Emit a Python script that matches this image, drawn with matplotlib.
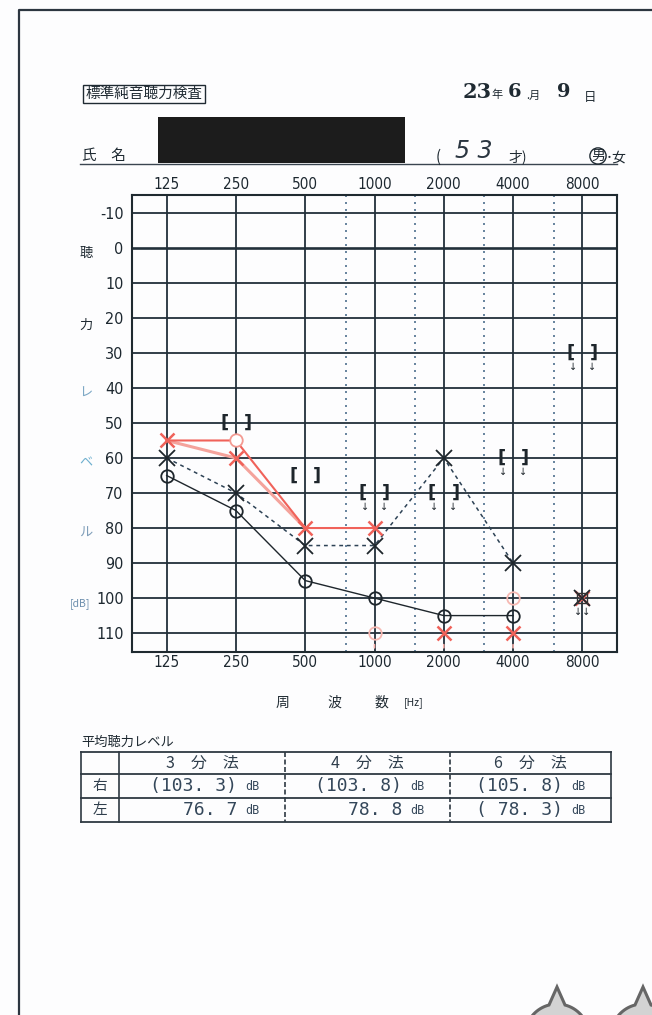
import numpy as np
import matplotlib
matplotlib.use('Agg')
import matplotlib.pyplot as plt
from matplotlib.patches import Rectangle, Polygon

plt.rcParams['font.family'] = ['Noto Sans CJK JP', 'DejaVu Sans']

# frequency axis
freqs = [125, 250, 500, 1000, 2000, 4000, 8000]
freqLabels = ['125', '250', '500', '1000', '2000', '4000', '8000']
halfFreqs = [750, 1500, 3000, 6000]
dbTicks = list(range(-10, 111, 10))

# black marks
blackOFreq = [125, 250, 500, 1000, 2000, 4000]
blackODb = [65, 75, 95, 100, 105, 105]
blackXFreq = [125, 250, 500, 1000, 2000, 4000, 8000]
blackXDb = [60, 70, 85, 85, 60, 90, 100]

# red marks
redSolidFreq = [125, 250, 500, 1000]
redSolidDb = [55, 55, 80, 80]
redPaleFreq = [125, 250, 500]
redPaleDb = [55, 60, 80]
redXFreq = [125, 250, 500, 1000, 2000, 4000, 8000]
redXDb = [55, 60, 80, 80, 110, 110, 100]
redOFreq = [250]
redODb = [55]
redFaintOFreq = [1000, 4000]
redFaintODb = [110, 100]
redOutFreq = [1000, 2000, 4000]
redOutDb = [110, 110, 110]

# bone conduction brackets
boneFreq = [250, 500, 1000, 2000, 4000, 8000]
boneDb = [50, 65, 70, 70, 60, 30]
boneOut = [False, False, True, True, True, True]

# average table
tableCols = ['3　分　法', '4　分　法', '6　分　法']
tableRows = ['右', '左']
tableVals = [['(103. 3)', '(103. 8)', '(105. 8)'],
             ['76. 7', '78. 8', '( 78. 3)']]

W, H = 652, 1015
fig = plt.figure(figsize=(W / 100, H / 100), dpi=100)
fig.patch.set_facecolor('#fdfdfe')

# page overlay in pixel coords
pg = fig.add_axes([0, 0, 1, 1])
pg.set_xlim(0, W)
pg.set_ylim(H, 0)
pg.axis('off')

ink = '#1f2a32'
pg.plot([19, 19, W], [H, 10, 10], color='#2c3640', lw=1.6)

pg.text(144, 94, '標準純音聴力検査', fontsize=10.5, ha='center', va='center', color=ink,
        bbox=dict(boxstyle='square,pad=0.15', fc='none', ec=ink, lw=1))
pg.text(477, 92, '23', fontsize=15, fontweight='bold', ha='center', va='center', color=ink, family='DejaVu Serif')
pg.text(497, 95, '年', fontsize=8, ha='center', va='center', color=ink)
pg.text(515, 92, '6', fontsize=14, fontweight='bold', ha='center', va='center', color=ink, family='DejaVu Serif')
pg.text(533, 96, '.月', fontsize=8, ha='center', va='center', color=ink)
pg.text(564, 92, '9', fontsize=14, fontweight='bold', ha='center', va='center', color=ink, family='DejaVu Serif')
pg.text(590, 97, '日', fontsize=9, ha='center', va='center', color=ink)

pg.text(82, 156, '氏　名', fontsize=10.5, ha='left', va='center', color=ink)
pg.plot([80, 617], [164, 164], color='#3a4550', lw=1)
pg.add_patch(Rectangle((158, 117), 247, 46, fc='#1c1c1c', ec='none'))
pg.text(438, 157, '(', fontsize=11, ha='center', va='center', color=ink)
pg.text(474, 151, '5 3', fontsize=17, ha='center', va='center', color='#2a3540', style='italic',
        family='DejaVu Sans', fontweight='light')
pg.text(518, 157, '才)', fontsize=10, ha='center', va='center', color=ink)
pg.text(598, 156, '男', fontsize=10, ha='center', va='center', color=ink,
        bbox=dict(boxstyle='circle,pad=0.08', fc='none', ec=ink, lw=1))
pg.text(616, 158, '･女', fontsize=10, ha='center', va='center', color=ink)

# vertical axis words
sideWords = [('聴', 253, ink), ('力', 325, ink), ('レ', 393, '#7aa6c4'),
             ('ベ', 463, '#6fb0cf'), ('ル', 533, '#7d9cb8')]
for ch, yy, cc in sideWords:
    pg.text(86, yy, ch, fontsize=9.5, ha='center', va='center', color=cc)
pg.text(80, 604, '[dB]', fontsize=7.5, ha='center', va='center', color='#6d8fae')

pg.text(282, 703, '周', fontsize=10, ha='center', va='center', color=ink)
pg.text(334, 703, '波', fontsize=10, ha='center', va='center', color=ink)
pg.text(381, 703, '数', fontsize=10, ha='center', va='center', color=ink)
pg.text(414, 703, '[Hz]', fontsize=7.5, ha='center', va='center', color=ink)

# table
pg.text(81, 742, '平均聴力レベル', fontsize=9.5, ha='left', va='center', color=ink)
tx = [81, 119, 285, 450, 611]
ty = [752, 774, 798, 822]
for yy in ty:
    pg.plot([tx[0], tx[-1]], [yy, yy], color='#2e3942', lw=1.3)
for i, xx in enumerate(tx):
    ls = '-' if i in (0, 1, 4) else (0, (3, 1.5))
    pg.plot([xx, xx], [ty[0], ty[-1]], color='#2e3942', lw=1.2, ls=ls)
for j, name in enumerate(tableCols):
    pg.text((tx[j + 1] + tx[j + 2]) / 2, (ty[0] + ty[1]) / 2, name, fontsize=11.5,
            ha='center', va='center', color='#2f3e4c')
for i, rn in enumerate(tableRows):
    yy = (ty[i + 1] + ty[i + 2]) / 2
    pg.text((tx[0] + tx[1]) / 2, yy, rn, fontsize=10.5, ha='center', va='center', color='#2f3e4c')
    for j in range(3):
        right = tx[j + 2]
        pg.text(right - 48, yy, tableVals[i][j], fontsize=13, ha='right', va='center',
                color='#34475a', family='DejaVu Sans Mono')
        pg.text(right - 40, yy + 1, 'dB', fontsize=8.5, ha='left', va='center', color='#34475a',
                family='DejaVu Sans Mono')

# bottom-right cut-off icons
for cx in [557, 643]:
    ang = np.linspace(np.pi * 0.95, np.pi * 0.05, 40)
    r = 32
    cy = 1036
    px = cx + r * np.cos(ang)
    py = cy - r * np.sin(ang)
    mid = len(ang) // 2
    pts = list(zip(px[:mid - 3], py[:mid - 3])) + [(cx, 987)] + list(zip(px[mid + 3:], py[mid + 3:]))
    pg.add_patch(Polygon(pts, closed=False, fc='#d3d3d3', ec='#666666', lw=2.2))

# audiogram axes
ax = fig.add_axes([132 / W, 1 - 652 / H, 485 / W, 457 / H])
ax.set_facecolor('none')
ax.set_xscale('log', base=2)
ax.set_xlim(125 / np.sqrt(2), 8000 * np.sqrt(2))
ax.set_ylim(115.4, -15.1)
ax.minorticks_off()

for d in dbTicks:
    ax.axhline(d, color='#22303a', lw=1.9 if d == 0 else 1.3, zorder=1)
for f in freqs:
    ax.axvline(f, color='#22303a', lw=1.3, zorder=1)
for f in halfFreqs:
    ax.axvline(f, color='#4d6f8e', lw=1.2, ls=(0, (1.2, 3)), zorder=1)

for sp in ax.spines.values():
    sp.set_color('#1f2a30')
    sp.set_linewidth(1.5)

ax.set_xticks(freqs)
ax.set_xticklabels(freqLabels)
ax.set_yticks(dbTicks)
ax.set_yticklabels([str(d) for d in dbTicks])
ax.tick_params(axis='x', which='both', length=0, top=True, labeltop=True, pad=2, labelsize=11,
               labelcolor='#1d2830')
ax.tick_params(axis='y', length=0, pad=6, labelsize=11.5, labelcolor='#1d2830')
for lb in ax.get_xticklabels() + ax.xaxis.get_ticklabels() + ax.get_yticklabels():
    lb.set_family('DejaVu Sans')
    lb.set_stretch('condensed')

red = '#f0625a'
# red lines
ax.plot(redPaleFreq, redPaleDb, color='#f4a39c', lw=2.2, zorder=3)
ax.plot(redSolidFreq, redSolidDb, color=red, lw=1.5, zorder=3)
ax.plot(redXFreq, redXDb, ls='none', marker='x', ms=10, mew=1.8, color=red, zorder=5)
ax.plot(redOFreq, redODb, ls='none', marker='o', ms=9, mew=1.3, mfc='white', mec='#f39a92', zorder=4)
ax.plot(redFaintOFreq, redFaintODb, ls='none', marker='o', ms=9, mew=1.3, mfc='none', mec='#f6b8b2', zorder=4)
for f, d in zip(redOutFreq, redOutDb):
    ax.annotate('', xy=(f, d + 5), xytext=(f, d + 2.5),
                arrowprops=dict(arrowstyle='-', color='#f6b0aa', lw=1.2), zorder=4)

# black lines
ax.plot(blackOFreq, blackODb, color='#1e262c', lw=1, marker='o', ms=9, mfc='none', mew=1.3, zorder=4)
ax.plot(blackXFreq[:-1], blackXDb[:-1], color='#2d4255', lw=1.1, ls=(0, (2.5, 2.5)), zorder=3)
ax.plot(blackXFreq, blackXDb, ls='none', marker='x', ms=11, mew=1.3, color='#1e262c', zorder=6)
ax.plot(blackXFreq[-1:], blackXDb[-1:], ls='none', marker='s', ms=7, mfc='none', mew=1, mec='#333333', zorder=6)
ax.text(blackXFreq[-1], blackXDb[-1] + 4, '↓↓', fontsize=7, ha='center', va='center',
        color='#1e262c', family='DejaVu Sans', zorder=6)

# bone conduction
oct = 0.17
for f, d, out in zip(boneFreq, boneDb, boneOut):
    fl = f * 2 ** -oct
    fr = f * 2 ** oct
    ax.text(fl, d, '[', fontsize=13, fontweight='bold', ha='center', va='center', color='#1e262c',
            family='DejaVu Sans', zorder=6)
    ax.text(fr, d, ']', fontsize=13, fontweight='bold', ha='center', va='center', color='#1e262c',
            family='DejaVu Sans', zorder=6)
    if out:
        ax.text(fl * 2 ** 0.03, d + 4, '↓', fontsize=7, ha='center', va='center', color='#1e262c',
                family='DejaVu Sans', zorder=6)
        ax.text(fr * 2 ** -0.03, d + 4, '↓', fontsize=7, ha='center', va='center', color='#1e262c',
                family='DejaVu Sans', zorder=6)

fig.savefig('out.png', dpi=100, facecolor=fig.get_facecolor())
